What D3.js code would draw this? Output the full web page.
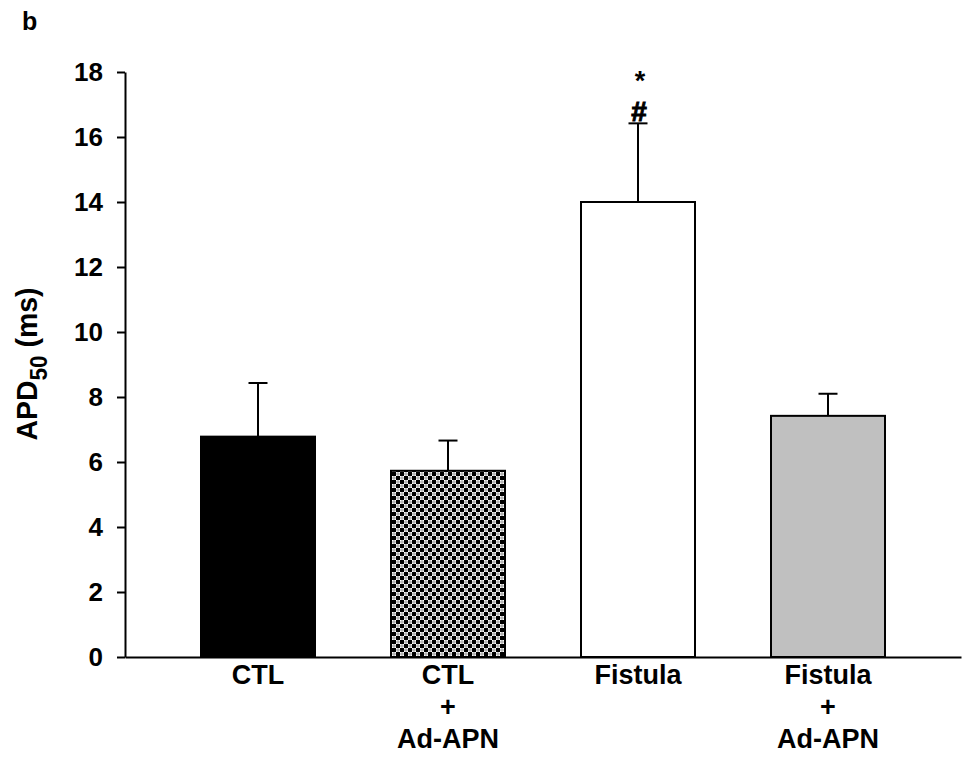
<!DOCTYPE html>
<html>
<head>
<meta charset="utf-8">
<script src="https://cdn.jsdelivr.net/npm/d3@7"></script>
<style>
  body { margin: 0; background: #fff; }
  svg { display: block; font-family: "Liberation Sans", Arial, sans-serif; font-weight: bold; }
</style>
</head>
<body>
<div id="chart"></div>
<script>
// Data
const groups = ["CTL", "CTL+Ad", "Fistula", "Fistula+Ad"];
const groupLabels = [["CTL"], ["CTL", "+", "Ad-APN"], ["Fistula"], ["Fistula", "+", "Ad-APN"]];
const means = [6.78, 5.73, 14.0, 7.42];
const errTops = [8.43, 6.66, 16.42, 8.1];
const fills = ["#000000", "url(#checker)", "#ffffff", "#c0c0c0"];
const yTicks = [0, 2, 4, 6, 8, 10, 12, 14, 16, 18];

const W = 963, H = 759;
const svg = d3.select("#chart").append("svg").attr("width", W).attr("height", H);

// checkered pattern for CTL + Ad-APN
const pat = svg.append("defs").append("pattern")
  .attr("id", "checker").attr("width", 8).attr("height", 8)
  .attr("patternUnits", "userSpaceOnUse");
pat.append("rect").attr("width", 8).attr("height", 8).attr("fill", "#fff");
pat.append("rect").attr("x", 0).attr("y", 0).attr("width", 4).attr("height", 4).attr("fill", "#000");
pat.append("rect").attr("x", 4).attr("y", 4).attr("width", 4).attr("height", 4).attr("fill", "#000");
pat.append("circle").attr("cx", 6).attr("cy", 2).attr("r", 1.2).attr("fill", "none").attr("stroke", "#777").attr("stroke-width", 0.8);
pat.append("circle").attr("cx", 2).attr("cy", 6).attr("r", 1.2).attr("fill", "none").attr("stroke", "#777").attr("stroke-width", 0.8);

const x = d3.scaleBand().domain(groups).range([125, 961]).paddingInner(0.4).paddingOuter(0.4);
const y = d3.scaleLinear().domain([0, 18]).range([657, 72]);

// bars
svg.selectAll(".bar").data(groups).enter().append("rect")
  .attr("class", "bar")
  .attr("x", d => x(d))
  .attr("y", (d, i) => y(means[i]))
  .attr("width", x.bandwidth())
  .attr("height", (d, i) => y(0) - y(means[i]))
  .attr("fill", (d, i) => fills[i])
  .attr("stroke", "#000").attr("stroke-width", 2);

// error bars (upper only)
const capW = 19;
groups.forEach((g, i) => {
  const cx = x(g) + x.bandwidth() / 2;
  svg.append("line").attr("x1", cx).attr("x2", cx)
    .attr("y1", y(means[i])).attr("y2", y(errTops[i]))
    .attr("stroke", "#000").attr("stroke-width", 2);
  svg.append("line").attr("x1", cx - capW / 2).attr("x2", cx + capW / 2)
    .attr("y1", y(errTops[i])).attr("y2", y(errTops[i]))
    .attr("stroke", "#000").attr("stroke-width", 2);
});

// significance marks over Fistula
const fx = x("Fistula") + x.bandwidth() / 2;
svg.append("text").attr("x", fx + 1).attr("y", y(errTops[2]) - 2)
  .attr("text-anchor", "middle").attr("font-size", 28)
  .attr("stroke", "#000").attr("stroke-width", 1).text("#");
svg.append("text").attr("x", fx + 2).attr("y", 90)
  .attr("text-anchor", "middle").attr("font-size", 27).text("*");

// y axis
const yAxis = svg.append("g").attr("transform", "translate(125,0)")
  .call(d3.axisLeft(y).tickValues(yTicks).tickSize(8).tickSizeOuter(0).tickPadding(14));
yAxis.selectAll("text").attr("font-size", 26).attr("font-family", null).attr("fill", "#000");
yAxis.selectAll("line, path").attr("stroke", "#000").attr("stroke-width", 2);

// x axis
const xAxis = svg.append("g").attr("transform", "translate(0,657)")
  .call(d3.axisBottom(x).tickSize(0).tickSizeOuter(0).tickFormat(""));
xAxis.select("path").attr("stroke", "#000").attr("stroke-width", 2);
xAxis.selectAll(".tick text").remove();
groups.forEach((g, i) => {
  const t = svg.append("text")
    .attr("x", x(g) + x.bandwidth() / 2).attr("y", 684)
    .attr("text-anchor", "middle").attr("font-size", 27);
  groupLabels[i].forEach((s, k) => {
    t.append("tspan").attr("x", x(g) + x.bandwidth() / 2)
      .attr("y", 684 + k * 32).text(s);
  });
});

// y axis title
const yt = svg.append("text")
  .attr("transform", "translate(37,364) rotate(-90)")
  .attr("text-anchor", "middle").attr("font-size", 29)
  .attr("textLength", 153).attr("lengthAdjust", "spacingAndGlyphs");
yt.append("tspan").text("APD");
yt.append("tspan").attr("font-size", 23).attr("dy", 10).text("50");
yt.append("tspan").attr("dy", -10).text(" (ms)");

// panel letter
svg.append("text").attr("x", 22).attr("y", 30).attr("font-size", 25).text("b");
</script>
</body>
</html>
